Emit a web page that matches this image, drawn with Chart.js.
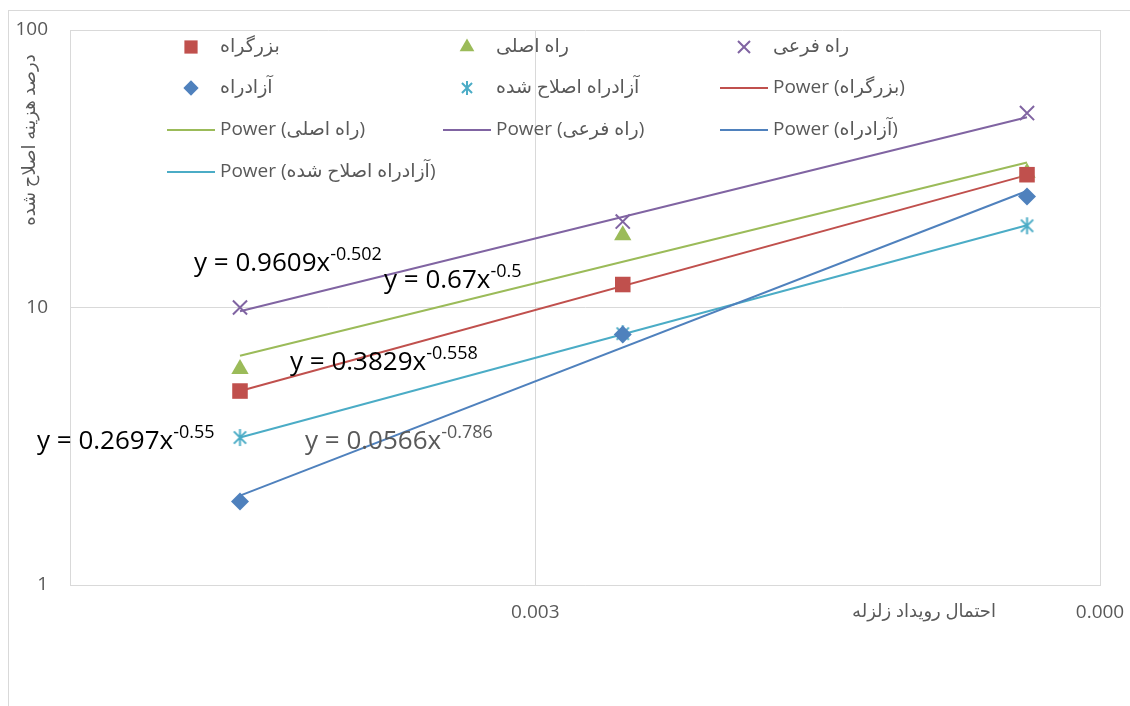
<!DOCTYPE html>
<html>
<head>
<meta charset="utf-8">
<script src="https://cdn.jsdelivr.net/npm/chart.js@4.4.1/dist/chart.umd.min.js"></script>
<style>
  html, body { margin: 0; padding: 0; background: #fff; }
  canvas { display: block; }
</style>
</head>
<body>
<canvas id="grafico" width="1130" height="706"></canvas>
<script>
// احتمال رویداد زلزله
var probabilidades = [0.01, 0.0021, 0.000404]
// درصد هزینه اصلاح شده
var bozorgrah = [5.0, 12.1, 30.1]
var rahAsli = [6.0, 18.2, 30.6]
var rahFarei = [10.0, 20.4, 50.2]
var azadrah = [2.0, 8.0, 25.1]
var azadrahEslah = [3.4, 8.05, 19.7]

// trend lines (Power), endpoints
var trendX = [0.01, 0.000404]
var trendBozorgrah = [5.0, 30.0]
var trendRahAsli = [6.7, 33.3]
var trendRahFarei = [9.7, 48.5]
var trendAzadrah = [2.1, 26.3]
var trendAzadrahEslah = [3.4, 19.8]

var xTicks = [0.003, 0.0003]
var yTicks = [1, 10, 100]

var nomes = ["بزرگراه", "راه اصلی", "راه فرعی", "آزادراه", "آزادراه اصلاح شده"]
var equacoes = [
  ["y = 0.9609x", "-0.502"],
  ["y = 0.67x", "-0.5"],
  ["y = 0.3829x", "-0.558"],
  ["y = 0.2697x", "-0.55"],
  ["y = 0.0566x", "-0.786"]
]

var cores = ["#C0504D", "#9BBB59", "#8064A2", "#4F81BD", "#4BACC6"]
var fonte = "'Open Sans', 'DejaVu Sans', sans-serif"

function pontos(xs, ys){
  var r = []
  xs.forEach(function(v, i){ r.push({x: v, y: ys[i]}) })
  return r
}

// asterisco do Excel (6 bracos)
function estrela(cor, t){
  var c = document.createElement('canvas')
  c.width = t; c.height = t
  var g = c.getContext('2d')
  g.strokeStyle = cor
  g.lineWidth = 2
  var m = t / 2, r = t / 2 - 1, d = r * 0.72
  g.beginPath()
  g.moveTo(m, m - r); g.lineTo(m, m + r)
  g.moveTo(m - d, m - d); g.lineTo(m + d, m + d)
  g.moveTo(m + d, m - d); g.lineTo(m - d, m + d)
  g.stroke()
  return c
}

var estrelaGrande = estrela(cores[4], 19)
var estrelaLegenda = estrela(cores[4], 16)

var series = [bozorgrah, rahAsli, rahFarei, azadrah, azadrahEslah]
var trends = [trendBozorgrah, trendRahAsli, trendRahFarei, trendAzadrah, trendAzadrahEslah]
var estilos = ['rect', 'triangle', 'crossRot', 'rectRot', estrelaGrande]
var raios = [11, 10, 10, 9, 9]

var datasets = []
series.forEach(function(s, i){
  datasets.push({
    label: nomes[i],
    data: pontos(probabilidades, s),
    showLine: false,
    pointStyle: estilos[i],
    pointRadius: raios[i],
    pointHoverRadius: raios[i],
    pointBackgroundColor: cores[i],
    pointBorderColor: cores[i],
    pointBorderWidth: i == 2 ? 2 : 0
  })
})
trends.forEach(function(t, i){
  datasets.push({
    label: "Power (" + nomes[i] + ")",
    data: pontos(trendX, t),
    showLine: true,
    borderColor: cores[i],
    borderWidth: 2,
    pointRadius: 0,
    pointHoverRadius: 0
  })
})

var legendaX = [167, 443, 720]
var legendaY = [47, 88, 130, 172]

var extras = {
  id: 'extras',
  beforeDraw: function(chart){
    var ctx = chart.ctx
    ctx.save()
    ctx.strokeStyle = '#D9D9D9'
    ctx.lineWidth = 1
    ctx.strokeRect(8.5, 10.5, 1140, 800)
    ctx.restore()
  },
  afterDraw: function(chart){
    var ctx = chart.ctx
    ctx.save()
    // legenda
    ctx.textBaseline = 'middle'
    ctx.textAlign = 'left'
    ctx.font = "19px " + fonte
    chart.data.datasets.forEach(function(ds, i){
      var cx = legendaX[i % 3], cy = legendaY[Math.floor(i / 3)]
      if (ds.showLine) {
        ctx.strokeStyle = ds.borderColor
        ctx.lineWidth = 2
        ctx.beginPath()
        ctx.moveTo(cx, cy); ctx.lineTo(cx + 48, cy)
        ctx.stroke()
      } else {
        ctx.fillStyle = ds.pointBackgroundColor
        ctx.strokeStyle = ds.pointBorderColor
        ctx.lineWidth = 2
        var st = ds.pointStyle == estrelaGrande ? estrelaLegenda : ds.pointStyle
        Chart.helpers.drawPoint(ctx, {pointStyle: st, radius: ds.pointRadius * 0.85, rotation: 0, borderWidth: ds.pointBorderWidth}, cx + 24, cy)
      }
      ctx.fillStyle = '#595959'
      ctx.fillText(ds.label, cx + 53, cy)
    })

    // equacoes das linhas de tendencia
    var posEq = [[194, 271, '#000'], [384, 288, '#000'], [290, 370, '#000'], [37, 449, '#000'], [305, 449, '#595959']]
    ctx.textBaseline = 'alphabetic'
    equacoes.forEach(function(e, i){
      var p = posEq[i]
      ctx.fillStyle = p[2]
      ctx.font = "26px " + fonte
      ctx.fillText(e[0], p[0], p[1])
      var w = ctx.measureText(e[0]).width
      ctx.font = "18px " + fonte
      ctx.fillText(e[1], p[0] + w, p[1] - 11)
    })

    // titulos dos eixos
    ctx.fillStyle = '#595959'
    ctx.font = "18px " + fonte
    ctx.textAlign = 'center'
    ctx.textBaseline = 'middle'
    ctx.fillText("احتمال رویداد زلزله", 924, 612)
    ctx.translate(30, 140)
    ctx.rotate(-Math.PI / 2)
    ctx.fillText("درصد هزینه اصلاح شده", 0, 0)
    ctx.restore()
  }
}

new Chart(document.getElementById('grafico'), {
  type: 'scatter',
  data: { datasets: datasets },
  plugins: [extras],
  options: {
    responsive: false,
    animation: false,
    devicePixelRatio: 1,
    layout: { padding: { top: 30, right: 30, left: 0, bottom: 0 } },
    plugins: { legend: { display: false }, tooltip: { enabled: false } },
    scales: {
      x: {
        type: 'logarithmic',
        reverse: true,
        min: 0.0003,
        max: 0.02,
        afterBuildTicks: function(s){ s.ticks = xTicks.map(function(v){ return {value: v} }) },
        afterFit: function(s){ s.height = 121; s.paddingLeft = 0; s.paddingRight = 0 },
        grid: { color: '#D9D9D9', drawTicks: false },
        border: { color: '#D9D9D9' },
        ticks: {
          padding: 16, color: '#595959', maxRotation: 0, autoSkip: false,
          font: { size: 19, family: fonte },
          callback: function(v){ return Number(v).toFixed(3) }
        }
      },
      y: {
        type: 'logarithmic',
        min: 1,
        max: 100,
        afterBuildTicks: function(s){ s.ticks = yTicks.map(function(v){ return {value: v} }) },
        afterFit: function(s){ s.width = 70; s.paddingTop = 0; s.paddingBottom = 0 },
        grid: { color: '#D9D9D9', drawTicks: false },
        border: { color: '#D9D9D9' },
        ticks: {
          padding: 22, color: '#595959',
          font: { size: 19, family: fonte },
          callback: function(v){ return String(v) }
        }
      }
    }
  }
})
</script>
</body>
</html>
